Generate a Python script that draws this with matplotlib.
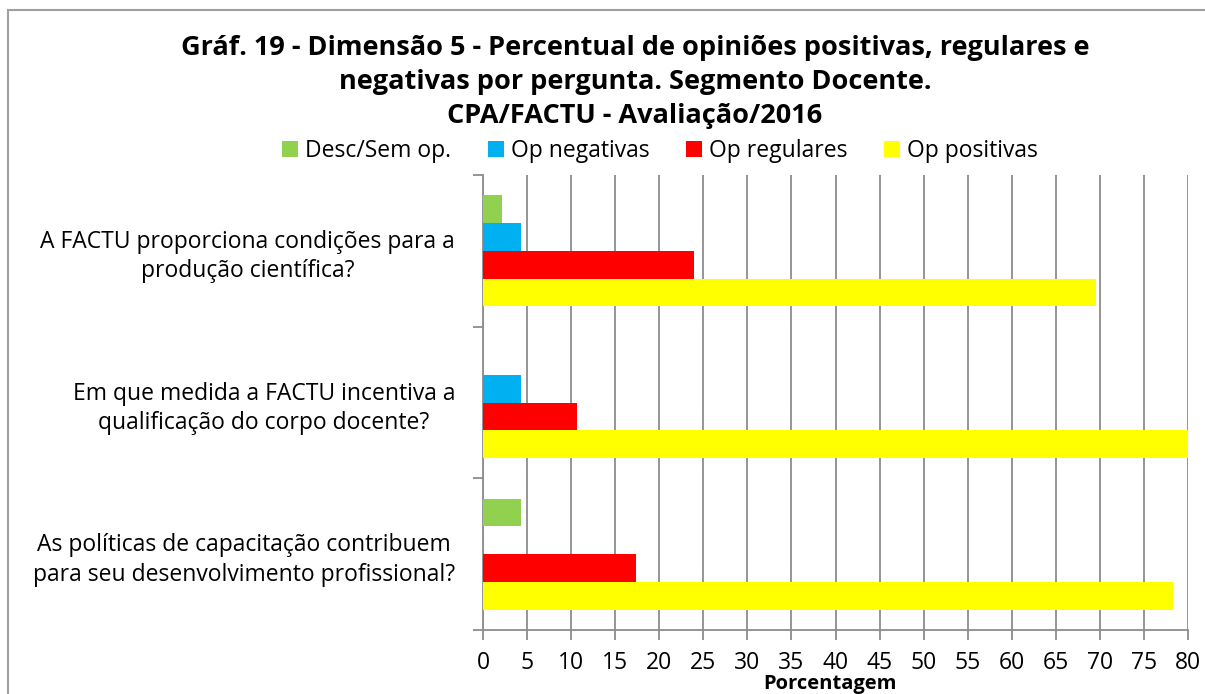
import matplotlib
matplotlib.use("Agg")
import matplotlib.pyplot as plt
from matplotlib.patches import Rectangle
import numpy as np

plt.rcParams['font.family'] = ['Open Sans', 'DejaVu Sans']

# data (percentages)
perguntas = [
    "A FACTU proporciona condições para a\nprodução científica?",
    "Em que medida a FACTU incentiva a\nqualificação do corpo docente?",
    "As políticas de capacitação contribuem\npara seu desenvolvimento profissional?",
]
series_names = ["Desc/Sem op.", "Op negativas", "Op regulares", "Op positivas"]
desc_sem_op = [2.17, 0.0, 4.35]
op_negativas = [4.35, 4.26, 0.0]
op_regulares = [23.91, 10.64, 17.39]
op_positivas = [69.57, 85.11, 78.26]
cores = ["#92D050", "#00B0F0", "#FF0000", "#FFFF00"]

fig = plt.figure(figsize=(12.05, 6.94), dpi=100)

# outer chart border (Excel chart area)
fig.patches.append(Rectangle((8 / 1205, -0.1), 1.2, 1 - 10.5 / 694 + 0.1,
                             transform=fig.transFigure, fill=False,
                             edgecolor="#A0A0A0", linewidth=1.5))

ax = fig.add_axes([483 / 1205, 1 - 630 / 694, 705 / 1205, 455 / 694])

h = 0.183
y = np.arange(len(perguntas))
valores = [desc_sem_op, op_negativas, op_regulares, op_positivas]
for i, (nome, vals, cor) in enumerate(zip(series_names, valores, cores)):
    ax.barh(y + (i - 1.5) * h, vals, height=h, color=cor, label=nome, zorder=3)

ax.set_xlim(0, 80)
ax.set_ylim(2.5, -0.5)
ax.set_xticks(np.arange(0, 81, 5))
ax.grid(axis='x', color="#8c8c8c", linewidth=1.3, zorder=0)

ax.set_yticks(y)
ax.set_yticklabels(perguntas, fontsize=16.5, multialignment='center',
                   linespacing=1.3)
ax.set_yticks([-0.5, 0.5, 1.5, 2.5], minor=True)
ax.tick_params(axis='y', which='major', length=0, pad=20)
ax.tick_params(axis='y', which='minor', length=7, color="#8c8c8c", width=1.3)
ax.tick_params(axis='x', length=7, color="#8c8c8c", width=1.3, labelsize=16.5, pad=8)

for s in ['top', 'right']:
    ax.spines[s].set_visible(False)
for s in ['left', 'bottom']:
    ax.spines[s].set_color("#8c8c8c")
    ax.spines[s].set_linewidth(1.3)

# axis title sits low, just under the tick labels
fig.text(830 / 1205, 1 - 684 / 694, "Porcentagem", ha='center', va='center',
         fontsize=14.5, fontweight='bold')

fig.text(635 / 1205, 1 - 82 / 694,
         "Gráf. 19 - Dimensão 5 - Percentual de opiniões positivas, regulares e\n"
         "negativas por pergunta. Segmento Docente.\n"
         "CPA/FACTU - Avaliação/2016",
         ha='center', va='center', fontsize=19.5, fontweight='bold',
         linespacing=1.4)

fig.legend(loc='center', bbox_to_anchor=(660 / 1205, 1 - 151 / 694), ncol=4,
           frameon=False, fontsize=16.5, handlelength=0.7, handleheight=0.7,
           handletextpad=0.3, columnspacing=1.6, borderaxespad=0)

fig.savefig("out.png", dpi=100)
